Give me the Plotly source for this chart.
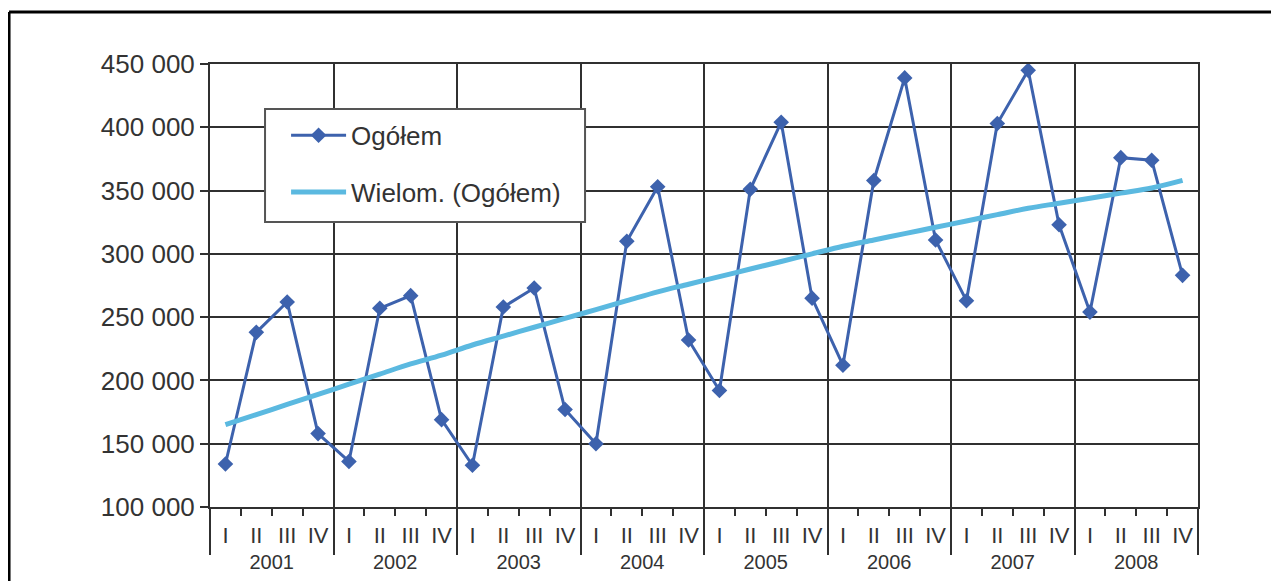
import plotly.graph_objects as go

years = ["2001", "2002", "2003", "2004", "2005", "2006", "2007", "2008"]
quarters = ["I", "II", "III", "IV"]

ogolem = [
    134000, 238000, 262000, 158000,
    136000, 257000, 267000, 169000,
    133000, 258000, 273000, 177000,
    150000, 310000, 353000, 232000,
    192000, 351000, 404000, 265000,
    212000, 358000, 439000, 311000,
    263000, 403000, 445000, 323000,
    254000, 376000, 374000, 283000,
]

trend = [
    165000, 173000, 181000, 189000,
    197000, 205000, 213000, 220000,
    228000, 235000, 242000, 249000,
    256000, 263000, 270000, 276000,
    282000, 288000, 294000, 300000,
    306000, 311000, 316000, 321000,
    326000, 331000, 336000, 340000,
    344000, 348000, 352000, 358000,
]

y_ticks = [100000, 150000, 200000, 250000, 300000, 350000, 400000, 450000]

n = len(ogolem)
idx = list(range(n))
q_labels = [quarters[i % 4] for i in idx]
year_bounds = [k * 4 - 0.5 for k in range(len(years) + 1)]
quarter_bounds = [i + 0.5 for i in idx[:-1]]
year_centers = [k * 4 + 1.5 for k in range(len(years))]

GRID = "#303030"
TXT = "#333333"
FONT = "Liberation Sans, Arial, sans-serif"

fig = go.Figure()
fig.add_trace(go.Scatter(
    x=idx, y=ogolem, name="Ogółem", mode="lines+markers",
    line=dict(color="#3D62AD", width=3),
    marker=dict(symbol="diamond", size=12, color="#3D62AD"),
    legendgroup="a",
))
fig.add_trace(go.Scatter(
    x=idx, y=trend, name="Wielom. (Ogółem)", mode="lines",
    line=dict(color="#5BB9E0", width=5, shape="spline", smoothing=1.0),
    legendgroup="b",
))
# invisible helper traces so the label axes are drawn
for ax in ("x2", "x3"):
    fig.add_trace(go.Scatter(
        x=idx, y=[None] * n, xaxis=ax, yaxis="y", mode="lines",
        showlegend=False, hoverinfo="skip",
    ))

xr = [-0.5, n - 0.5]
fig.update_layout(
    width=1271, height=573,
    margin=dict(l=202, r=81, t=56, b=74, autoexpand=False),
    paper_bgcolor="white", plot_bgcolor="white",
    font=dict(family=FONT, color=TXT, size=22),
    separators=", ",
    showlegend=True,
    legend=dict(
        x=0.077, y=0.892, xanchor="left", yanchor="top",
        bgcolor="rgba(0,0,0,0)", borderwidth=0,
        font=dict(size=26, color=TXT),
        tracegroupgap=20, traceorder="grouped",
        itemwidth=55,
    ),
    xaxis=dict(
        range=xr, tickmode="array", tickvals=year_bounds, automargin=False,
        showticklabels=False, ticks="outside", ticklen=46, tickwidth=2,
        tickcolor=GRID, showgrid=True, gridcolor=GRID, gridwidth=2,
        showline=True, mirror=True, linecolor=GRID, linewidth=2,
        zeroline=False,
        minor=dict(tickmode="array", tickvals=quarter_bounds,
                   ticks="outside", ticklen=7, tickwidth=2,
                   tickcolor=GRID, showgrid=False),
    ),
    xaxis2=dict(
        overlaying="x", anchor="y", side="bottom", range=xr, automargin=False,
        tickmode="array", tickvals=idx, ticktext=q_labels,
        ticks="outside", ticklen=9, tickcolor="rgba(0,0,0,0)",
        showgrid=False, showline=False, zeroline=False,
        tickfont=dict(size=22, color=TXT),
    ),
    xaxis3=dict(
        overlaying="x", anchor="y", side="bottom", range=xr, automargin=False,
        tickmode="array", tickvals=year_centers, ticktext=years,
        ticks="outside", ticklen=37, tickcolor="rgba(0,0,0,0)",
        showgrid=False, showline=False, zeroline=False,
        tickfont=dict(size=20, color=TXT),
    ),
    yaxis=dict(
        range=[100000, 450000], tickmode="array", tickvals=y_ticks,
        automargin=False,
        tickformat=",d", ticks="outside", ticklen=8, tickwidth=2,
        tickcolor=GRID, showgrid=True, gridcolor=GRID, gridwidth=2,
        showline=True, mirror=True, linecolor=GRID, linewidth=2,
        zeroline=False, tickfont=dict(size=26, color=TXT),
    ),
)

# legend box
fig.add_shape(type="rect", xref="paper", yref="paper",
              x0=0.0557, x1=0.3796, y0=0.6433, y1=0.8984,
              fillcolor="white", line=dict(color="#555555", width=2),
              layer="above")

# outer frame (top and left edges visible in the reference)
fig.add_shape(type="line", xref="paper", yref="paper",
              x0=-0.2034, x1=1.2, y0=1.1174, y1=1.1174,
              line=dict(color="black", width=3))
fig.add_shape(type="line", xref="paper", yref="paper",
              x0=-0.2034, x1=-0.2034, y0=1.1174, y1=-0.3,
              line=dict(color="black", width=3))

fig.write_html("out.html")
